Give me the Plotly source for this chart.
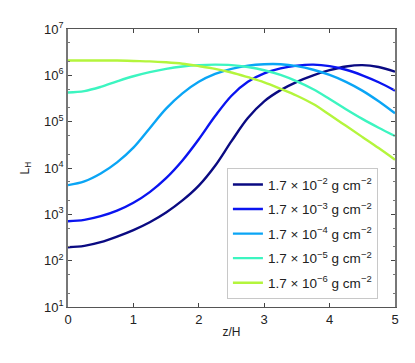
import plotly.graph_objects as go

# column density labels and read-off luminosity profiles L_H(z/H)
labels = [
    "1.7 × 10<sup>−2</sup> g cm<sup>−2</sup>",
    "1.7 × 10<sup>−3</sup> g cm<sup>−2</sup>",
    "1.7 × 10<sup>−4</sup> g cm<sup>−2</sup>",
    "1.7 × 10<sup>−5</sup> g cm<sup>−2</sup>",
    "1.7 × 10<sup>−6</sup> g cm<sup>−2</sup>",
]
colors = ["#0a0a82", "#0a14f0", "#0aa5f5", "#3cf5c0", "#b4f53c"]

z = [0, 0.25, 0.5, 0.75, 1, 1.25, 1.5, 1.75, 2, 2.25, 2.5,
     2.75, 3, 3.25, 3.5, 3.75, 4, 4.25, 4.5, 4.75, 5]

L_navy = [195, 209, 251, 331, 457, 676, 1096, 1995, 4169, 1.12e4, 3.80e4,
          1.20e5, 2.75e5, 4.79e5, 7.24e5, 1.0e6, 1.29e6, 1.55e6, 1.66e6, 1.51e6, 1.20e6]
L_blue = [708, 759, 912, 1202, 1778, 3020, 6026, 1.45e4, 4.17e4, 1.32e5, 3.63e5,
          7.24e5, 1.10e6, 1.41e6, 1.62e6, 1.70e6, 1.58e6, 1.32e6, 1.0e6, 7.08e5, 4.68e5]
L_lblue = [4.27e3, 5.13e3, 7.59e3, 1.32e4, 2.75e4, 7.24e4, 1.91e5, 4.07e5, 7.24e5,
           1.07e6, 1.38e6, 1.62e6, 1.74e6, 1.74e6, 1.58e6, 1.32e6, 1.02e6, 7.24e5,
           4.68e5, 2.75e5, 1.51e5]
L_aqua = [4.27e5, 4.57e5, 5.62e5, 7.41e5, 9.55e5, 1.17e6, 1.38e6, 1.55e6, 1.66e6,
          1.70e6, 1.66e6, 1.51e6, 1.29e6, 1.02e6, 7.41e5, 5.01e5, 3.09e5, 1.86e5,
          1.15e5, 7.41e4, 4.9e4]
L_lime = [2.09e6, 2.09e6, 2.09e6, 2.09e6, 2.04e6, 2.0e6, 1.91e6, 1.78e6, 1.58e6,
          1.38e6, 1.15e6, 9.12e5, 7.08e5, 5.13e5, 3.63e5, 2.40e5, 1.41e5, 8.13e4,
          4.68e4, 2.69e4, 1.51e4]

y_tickvals = [1e1, 1e2, 1e3, 1e4, 1e5, 1e6, 1e7]
y_ticktext = ["10<sup>%d</sup>" % i for i in range(1, 8)]

series = [L_navy, L_blue, L_lblue, L_aqua, L_lime]

fig = go.Figure()
for i, (Ls, name, c) in enumerate(zip(series, labels, colors)):
    fig.add_trace(go.Scatter(x=z, y=Ls, mode="lines", name=name, legendgroup=str(i),
                             line=dict(color=c, width=2.4, shape="spline", smoothing=1)))

# page body has an 8px margin, so the figure is shrunk by that much
fig.update_layout(
    width=407, height=355,
    margin=dict(l=60, r=20, t=15, b=56),
    paper_bgcolor="white", plot_bgcolor="white",
    font=dict(family="Liberation Sans, Arial, sans-serif", size=13, color="#222"),
    showlegend=True,
    legend=dict(x=0.486, y=0.028, xanchor="left", yanchor="bottom",
                bgcolor="white", bordercolor="#c8c8c8", borderwidth=1,
                font=dict(size=13.5, color="#222"), tracegroupgap=4,
                itemwidth=30),
    xaxis=dict(range=[0, 5], dtick=1, ticks="inside", ticklen=4,
               showline=True, linecolor="#555", linewidth=1, mirror="ticks",
               showgrid=False, zeroline=False,
               title=dict(text="z/H", standoff=2, font=dict(size=12)),
               minor=dict(ticks="", showgrid=False)),
    yaxis=dict(type="log", range=[1, 7], tickvals=y_tickvals, ticktext=y_ticktext,
               ticks="inside", ticklen=4,
               showline=True, linecolor="#777", linewidth=1.5, mirror="ticks",
               showgrid=False, zeroline=False,
               title=dict(text="L<sub>H</sub>", standoff=12, font=dict(size=12)),
               minor=dict(ticks="inside", ticklen=2, tickcolor="#777", showgrid=False)),
)

fig.write_html("out.html")
